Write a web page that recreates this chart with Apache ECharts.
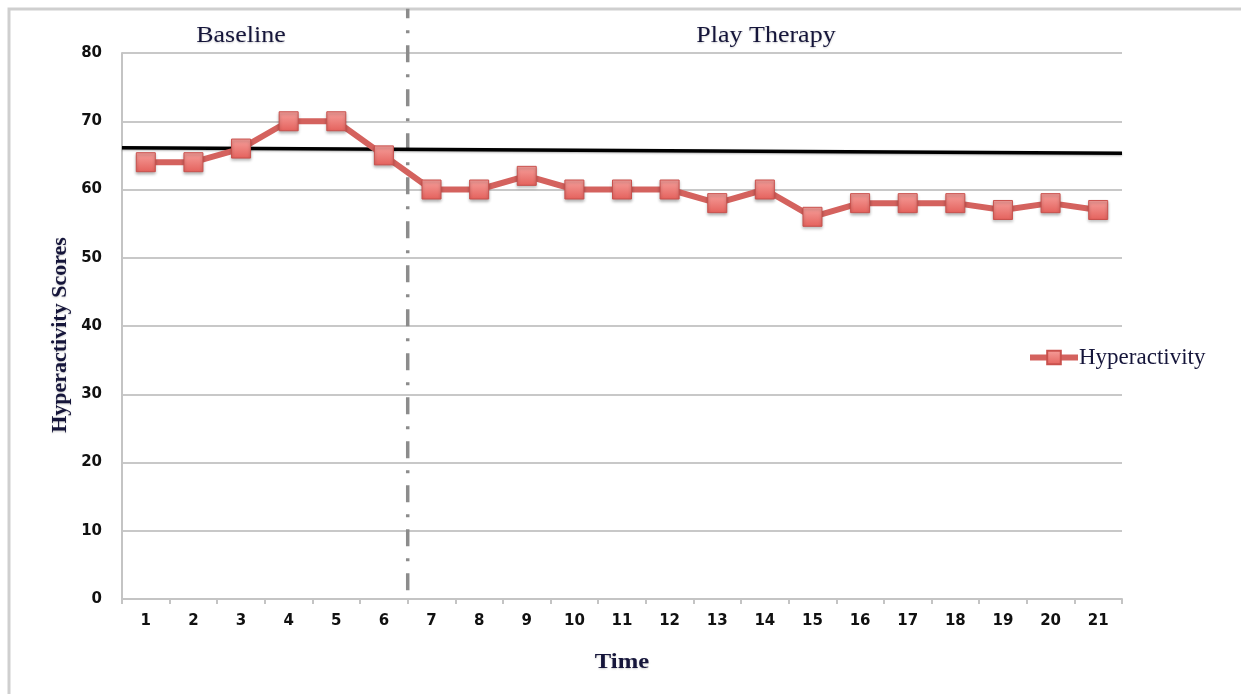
<!DOCTYPE html>
<html>
<head>
<meta charset="utf-8">
<script src="https://cdn.jsdelivr.net/npm/echarts@6/dist/echarts.min.js"></script>
<style>
  html, body { margin: 0; padding: 0; background: #fff; }
  #chart { width: 1241px; height: 694px; }
</style>
</head>
<body>
<div id="chart"></div>
<script>
// Sessions on the x axis
const timeLabels = ['1','2','3','4','5','6','7','8','9','10','11','12','13','14','15','16','17','18','19','20','21'];
// Hyperactivity score per session
const hyperactivity = [64, 64, 66, 70, 70, 65, 60, 60, 62, 60, 60, 60, 58, 60, 56, 58, 58, 58, 57, 58, 57];
// Reference level drawn across the whole chart (start, end)
const referenceLine = [[0.5, 66.1], [21.5, 65.3]];
// Phase change between session 6 and 7
const phaseChange = [[6.5, 1.3], [6.5, 86.5]];
// Phase headings
const phaseNames = ['Baseline', 'Play Therapy'];
const phaseCenters = [241, 766];
// Y axis ticks
const yMin = 0, yMax = 80, yStep = 10;

const chart = echarts.init(document.getElementById('chart'), null, { renderer: 'canvas' });

const serif = '"Liberation Serif", "DejaVu Serif", serif';
const sans = '"DejaVu Sans", Verdana, sans-serif';
const ink = '#15153a';

function label(text, x, y, font, opts) {
  return Object.assign({
    type: 'text',
    x: x, y: y,
    silent: true,
    style: {
      text: text,
      fill: ink,
      font: font,
      align: 'center',
      verticalAlign: 'middle',
      textShadowColor: 'rgba(0,0,0,0.2)',
      textShadowBlur: 2,
      textShadowOffsetY: 1
    }
  }, opts || {});
}

chart.setOption({
  animation: false,
  backgroundColor: '#ffffff',
  grid: { left: 122, right: 119, top: 53, bottom: 95, containLabel: false },
  graphic: [
    {
      type: 'rect',
      shape: { x: 9, y: 9, width: 1260, height: 720 },
      style: { fill: 'none', stroke: '#cfcfcf', lineWidth: 3 },
      silent: true
    },
    label(phaseNames[0], phaseCenters[0], 36, '23px ' + serif, { scaleX: 1.13 }),
    label(phaseNames[1], phaseCenters[1], 36, '23px ' + serif, { scaleX: 1.13 }),
    label('Hyperactivity Scores', 60, 335, 'bold 22px ' + serif, { rotation: Math.PI / 2 }),
    label('Time', 622, 662, 'bold 22px ' + serif, { scaleX: 1.12 })
  ],
  legend: {
    data: ['Hyperactivity'],
    left: 1022, top: 341,
    itemWidth: 48, itemHeight: 17,
    itemGap: 0,
    lineStyle: { width: 6 },
    textStyle: { fontFamily: serif, fontSize: 23, color: ink, padding: [0, 0, 0, -4] }
  },
  xAxis: [
    {
      type: 'category',
      data: timeLabels,
      boundaryGap: true,
      axisLine: { lineStyle: { color: '#c4c4c4', width: 2 } },
      axisTick: { show: true, alignWithLabel: false, length: 5, lineStyle: { color: '#c4c4c4', width: 2 } },
      axisLabel: { fontFamily: sans, fontSize: 15, color: '#111', fontWeight: 'bold', margin: 15 },
      splitLine: { show: false }
    },
    {
      type: 'value',
      min: 0.5, max: 21.5,
      show: false
    }
  ],
  yAxis: {
    type: 'value',
    min: yMin, max: yMax, interval: yStep,
    axisLine: { show: true, lineStyle: { color: '#c4c4c4', width: 2 } },
    axisTick: { show: false },
    axisLabel: { fontFamily: sans, fontSize: 15, color: '#111', fontWeight: 'bold', margin: 20 },
    splitLine: { lineStyle: { color: '#c8c8c8', width: 2 } }
  },
  series: [
    {
      name: 'phase',
      type: 'line',
      xAxisIndex: 1,
      data: phaseChange,
      symbol: 'none',
      clip: false,
      silent: true,
      lineStyle: { color: '#8c8c8c', width: 3.5, type: [17, 12, 3, 12] },
      z: 3
    },
    {
      name: 'reference',
      type: 'line',
      xAxisIndex: 1,
      data: referenceLine,
      symbol: 'none',
      silent: true,
      lineStyle: { color: '#000', width: 3.5, shadowColor: 'rgba(0,0,0,0.3)', shadowBlur: 2, shadowOffsetY: 1 },
      z: 4
    },
    {
      name: 'Hyperactivity',
      type: 'line',
      data: hyperactivity,
      symbol: 'rect',
      symbolSize: 19,
      lineStyle: { color: '#d4625e', width: 6 },
      itemStyle: {
        color: new echarts.graphic.LinearGradient(0, 0, 0, 1, [
          { offset: 0, color: '#f6a09c' },
          { offset: 1, color: '#e4615c' }
        ]),
        borderColor: '#c9514d',
        borderWidth: 1,
        shadowColor: 'rgba(0,0,0,0.3)',
        shadowBlur: 3,
        shadowOffsetY: 2
      },
      z: 5
    }
  ]
});
</script>
</body>
</html>
